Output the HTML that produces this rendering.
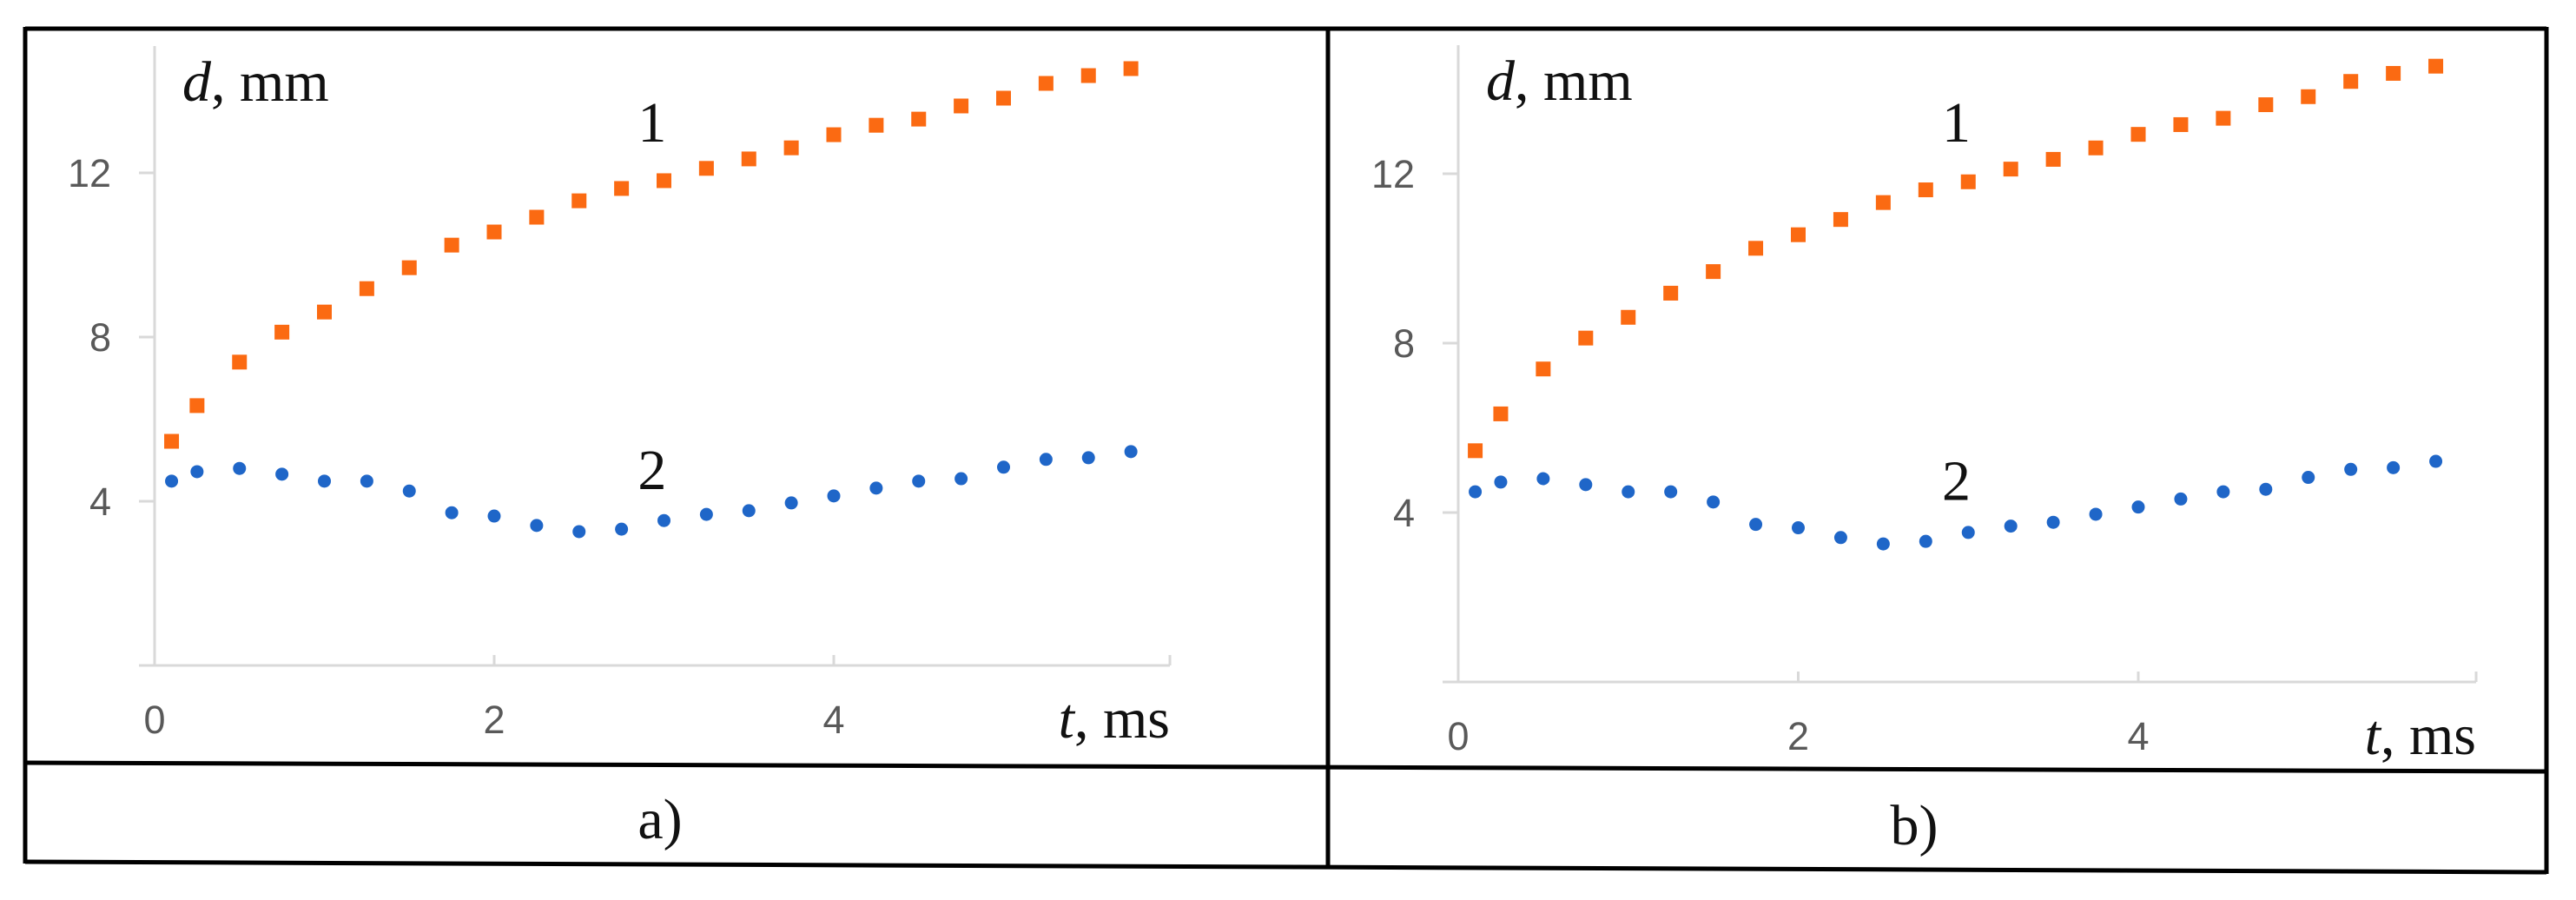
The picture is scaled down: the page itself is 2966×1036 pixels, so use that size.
<!DOCTYPE html>
<html>
<head>
<meta charset="utf-8">
<style>
  html, body { margin: 0; padding: 0; background: #fff; }
  svg { display: block; }
  .tick { font-family: "Liberation Sans", sans-serif; font-size: 45px; fill: #595959; }
  .serif { font-family: "Liberation Serif", serif; font-size: 66px; fill: #111; }
</style>
</head>
<body>
<svg id="fig" width="2966" height="1036" viewBox="0 0 2966 1036" xmlns="http://www.w3.org/2000/svg">
  <rect x="0" y="0" width="2966" height="1036" fill="#fff"/>
  <g id="frame" stroke="#000" stroke-width="5" fill="none">
    <line x1="29" y1="33" x2="2932" y2="33"/>
    <line x1="29" y1="31" x2="29" y2="994"/>
    <line x1="2932" y1="31" x2="2932" y2="1006"/>
    <line x1="1529" y1="33" x2="1529" y2="999"/>
    <line x1="29" y1="878" x2="2932" y2="888"/>
    <line x1="29" y1="992" x2="2932" y2="1004"/>
  </g>
  <text class="serif" x="760" y="965" text-anchor="middle">a)</text>
  <text class="serif" x="2204" y="972" text-anchor="middle">b)</text>
</svg>
<script>
const times = [0.1, 0.25, 0.5, 0.75, 1.0, 1.25, 1.5, 1.75, 2.0, 2.25, 2.5, 2.75, 3.0, 3.25, 3.5, 3.75, 4.0, 4.25, 4.5, 4.75, 5.0, 5.25, 5.5, 5.75];
const series1 = [5.46, 6.33, 7.39, 8.12, 8.61, 9.18, 9.69, 10.24, 10.56, 10.92, 11.32, 11.62, 11.81, 12.11, 12.34, 12.61, 12.93, 13.16, 13.31, 13.63, 13.82, 14.18, 14.37, 14.54];
const series2 = [4.49, 4.72, 4.80, 4.66, 4.49, 4.49, 4.25, 3.72, 3.64, 3.41, 3.26, 3.32, 3.53, 3.68, 3.77, 3.96, 4.13, 4.32, 4.49, 4.55, 4.83, 5.02, 5.06, 5.21];
const yTicks = [4, 8, 12];
const xTicks = [0, 2, 4];

const NS = 'http://www.w3.org/2000/svg';
const svg = document.getElementById('fig');

function mk(tag, attrs, parent) {
  const el = document.createElementNS(NS, tag);
  for (const k in attrs) el.setAttribute(k, attrs[k]);
  parent.appendChild(el);
  return el;
}

function drawPanel(id, x0, y0, pxMs, pxUnit, xEnd, yTop) {
  const g = mk('g', {}, svg);
  
  
  const X = t => x0 + t * pxMs;
  const Y = v => y0 - v * pxUnit;

  const yAxis = mk('line', {x1: x0, y1: yTop, x2: x0, y2: y0, stroke: '#d9d9d9', 'stroke-width': 3}, g);
  
  
  const xAxis = mk('line', {x1: x0 - 18, y1: y0, x2: xEnd, y2: y0, stroke: '#d9d9d9', 'stroke-width': 3}, g);
  
  

  yTicks.forEach(v => {
    const tk = mk('line', {x1: x0 - 18, y1: Y(v), x2: x0, y2: Y(v), stroke: '#d9d9d9', 'stroke-width': 3}, g);
    
    
    const tl = mk('text', {x: x0 - 50, y: Y(v) + 16, 'text-anchor': 'end', class: 'tick'}, g);
    tl.textContent = String(v);
    
    
  });
  xTicks.concat([6]).forEach(t => {
    const xx = t === 6 ? xEnd : X(t);
    const tk = mk('line', {x1: xx, y1: y0 - 12, x2: xx, y2: y0, stroke: '#d9d9d9', 'stroke-width': 3}, g);
    
    
  });
  xTicks.forEach(t => {
    const tl = mk('text', {x: X(t), y: y0 + 78, 'text-anchor': 'middle', class: 'tick'}, g);
    tl.textContent = String(t);
    
    
  });

  const yt = mk('text', {x: x0 + 32, y: yTop + 63, class: 'serif'}, g);
  yt.innerHTML = '<tspan font-style="italic">d</tspan>, mm';
  
  
  const xt = mk('text', {x: xEnd, y: y0 + 83, 'text-anchor': 'end', class: 'serif'}, g);
  xt.innerHTML = '<tspan font-style="italic">t</tspan>, ms';
  
  

  const l1 = mk('text', {x: X(2.93), y: Y(12.76), 'text-anchor': 'middle', class: 'serif', 'font-size': '62'}, g);
  l1.textContent = '1';
  
  
  const l2 = mk('text', {x: X(2.93), y: Y(4.30), 'text-anchor': 'middle', class: 'serif', 'font-size': '62'}, g);
  l2.textContent = '2';
  
  

  times.forEach((t, i) => {
    const s = mk('rect', {x: X(t) - 8.5, y: Y(series1[i]) - 8.5, width: 17, height: 17, fill: '#fb6a12'}, g);
    
    
    const c = mk('circle', {cx: X(t), cy: Y(series2[i]), r: 7.5, fill: '#1f66c8'}, g);
    
    
  });
}

drawPanel('a', 178, 766, 195.5, 47.25, 1347, 53);
drawPanel('b', 1679, 785, 195.75, 48.75, 2851, 52);
</script>
</body>
</html>
